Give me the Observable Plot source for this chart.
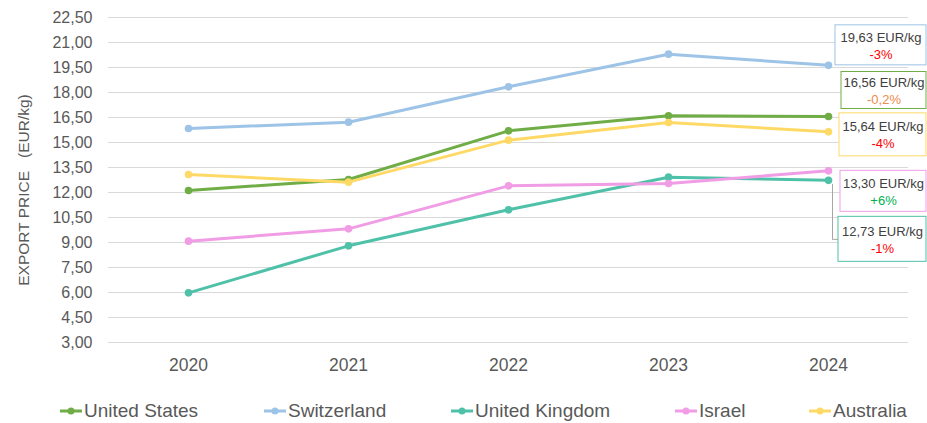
<!DOCTYPE html>
<html><head><meta charset="utf-8">
<script src="https://cdn.jsdelivr.net/npm/d3@7"></script>
<script src="https://cdn.jsdelivr.net/npm/@observablehq/plot@0.6"></script>
<style>
body{margin:0;background:#fff;font-family:"Liberation Sans",Arial,sans-serif;}
#wrap{position:relative;width:927px;height:423px;overflow:hidden}
#legend{position:absolute;left:0;top:400px;width:927px;height:22px;}
.item{position:absolute;top:0;display:flex;align-items:center;height:22px;font-size:19px;color:#595959;white-space:nowrap}
.item svg{margin-right:2px}
</style></head><body><div id="wrap"><div id="chart"></div><div id="legend"></div></div>
<script>
// ---- data ----
const years = [2020, 2021, 2022, 2023, 2024];
const countries = ["United States", "Switzerland", "United Kingdom", "Israel", "Australia"];
const unitedStates = [12.12, 12.78, 15.70, 16.60, 16.56];
const switzerland = [15.84, 16.22, 18.34, 20.30, 19.63];
const unitedKingdom = [5.98, 8.80, 10.96, 12.92, 12.73];
const israel = [9.08, 9.82, 12.40, 12.54, 13.30];
const australia = [13.08, 12.62, 15.14, 16.20, 15.64];
const changes = [-0.2, -3, -1, 6, -4]; // % change 2024 vs 2023, as labelled
const yTicks = d3.range(3, 22.51, 1.5);

// ---- styles / layout ----
const colors = ["#70ad47", "#9dc3e6", "#4fc1a8", "#f09de6", "#ffd966"];
const changeColors = ["#f08a4b", "#ff0000", "#ff0000", "#00b050", "#ff0000"];
// box layout per series: center offset (px) from point, height, left gap
const boxLayout = [
  {c: -26, h: 37, left: 13},
  {c: -20, h: 40, left: 7},
  {c: 59, h: 45, left: 10},
  {c: 20.5, h: 41, left: 12},
  {c: 3, h: 43, left: 11}
];
const boxRight = 98;
const legendLeft = [60, 264, 451, 675, 809];

const series = [unitedStates, switzerland, unitedKingdom, israel, australia];
const rows = countries.flatMap((c, i) => years.map((yr, j) => ({country: c, year: yr, value: series[i][j]})));
const fmtNum = v => v.toFixed(2).replace(".", ",");
const fmtChg = v => (v > 0 ? "+" : "") + String(v).replace(".", ",") + "%";
const lastYear = years[years.length - 1];
const labels = countries.map((c, i) => ({country: c, year: lastYear, value: series[i][series[i].length - 1], change: changes[i]}));

const seriesMarks = countries.flatMap((c, i) => {
  const d = rows.filter(r => r.country === c);
  return [
    Plot.line(d, {x: "year", y: "value", stroke: colors[i], strokeWidth: 3}),
    Plot.dot(d, {x: "year", y: "value", fill: colors[i], r: 3.8})
  ];
});

const labelMarks = labels.flatMap((l, i) => {
  const L = boxLayout[i];
  const cx = (L.left + boxRight) / 2;
  return [
    Plot.rect([l], {x1: "year", x2: "year", y1: "value", y2: "value", fill: "white", stroke: colors[i], strokeWidth: 1,
      insetLeft: L.left, insetRight: -boxRight, insetTop: L.c - L.h / 2, insetBottom: -(L.c + L.h / 2)}),
    Plot.text([l], {x: "year", y: "value", text: d => fmtNum(d.value) + " EUR/kg", dx: cx, dy: L.c - 8, fill: "#404040", fontSize: 13, textAnchor: "middle", lineAnchor: "middle"}),
    Plot.text([l], {x: "year", y: "value", text: d => fmtChg(d.change), dx: cx, dy: L.c + 9, fill: changeColors[i], fontSize: 13, textAnchor: "middle", lineAnchor: "middle"})
  ];
});

// leader for United Kingdom label
const ukLabel = [labels[2]];
const leaderMarks = [
  Plot.ruleX(ukLabel, {x: "year", y1: "value", y2: "value", dx: 4, insetTop: 4, insetBottom: -59, stroke: "#a6a6a6", strokeWidth: 1}),
  Plot.ruleY(ukLabel, {y: "value", x1: "year", x2: "year", dy: 59, insetLeft: 4, insetRight: -10, stroke: "#a6a6a6", strokeWidth: 1})
];

const chart = Plot.plot({
  width: 927, height: 392,
  marginLeft: 108, marginRight: 19, marginTop: 17, marginBottom: 50,
  style: {fontFamily: '"Liberation Sans", Arial, sans-serif', color: "#595959", background: "white"},
  x: {domain: [2019.5, 2024.5], label: null},
  y: {domain: [3, 22.5], label: null},
  marks: [
    Plot.gridY(yTicks, {stroke: "#d9d9d9", strokeOpacity: 1, strokeWidth: 1}),
    Plot.axisY(yTicks, {tickSize: 0, tickPadding: 16, tickFormat: fmtNum, fontSize: 16, label: null}),
    Plot.axisX(years, {tickSize: 0, tickPadding: 16, tickFormat: d => String(d), fontSize: 17.5, label: null}),
    Plot.text(["EXPORT PRICE\u00a0\u00a0\u00a0(EUR/kg)"], {text: d => d, frameAnchor: "left", rotate: -90, dx: -84, dy: 10, fontSize: 15.5, fill: "#595959", textAnchor: "middle", lineAnchor: "middle"}),
    ...seriesMarks,
    ...leaderMarks,
    ...labelMarks
  ]
});
document.getElementById("chart").appendChild(chart);

// legend
const legend = document.getElementById("legend");
countries.forEach((c, i) => {
  const item = document.createElement("div");
  item.className = "item";
  item.style.left = legendLeft[i] + "px";
  item.innerHTML = `<svg width="22" height="10"><line x1="0" x2="22" y1="5" y2="5" stroke="${colors[i]}" stroke-width="3"/><circle cx="11" cy="5" r="3.5" fill="${colors[i]}"/></svg><span>${c}</span>`;
  legend.appendChild(item);
});
</script></body></html>
